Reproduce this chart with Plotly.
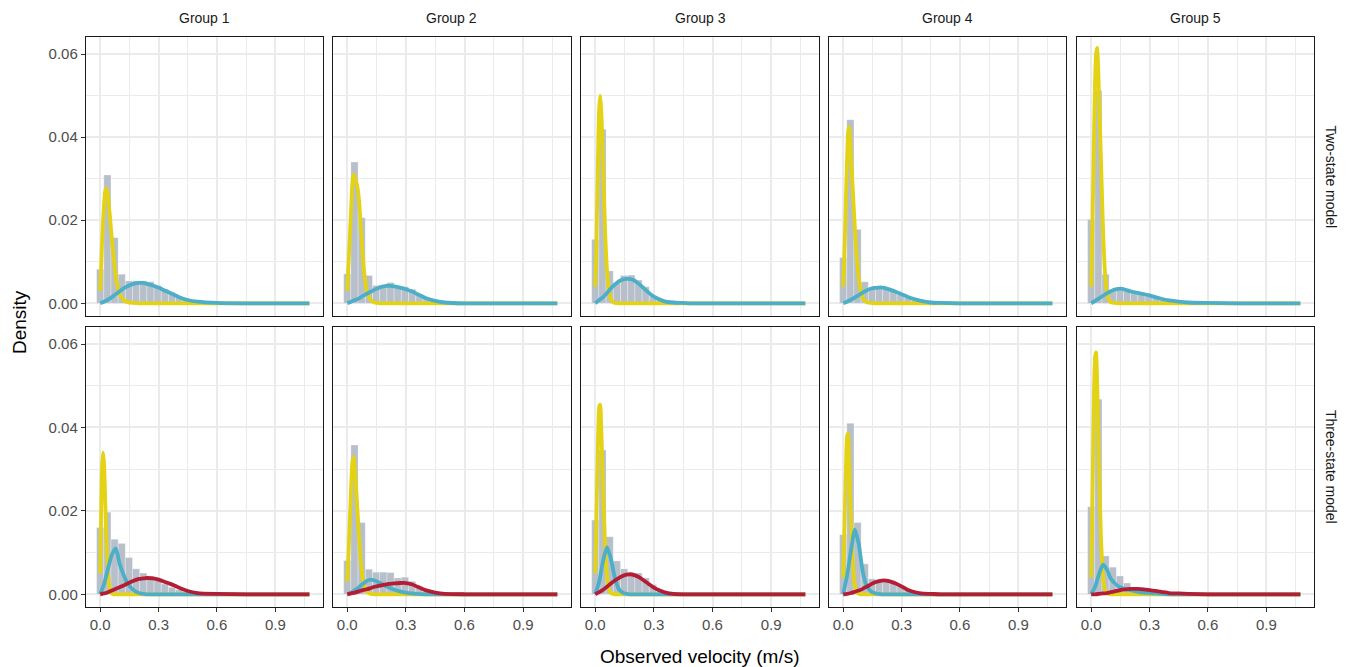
import plotly.graph_objects as go

# ---------------- data ----------------
GROUPS = ["Group 1", "Group 2", "Group 3", "Group 4", "Group 5"]
MODELS = ["Two-state model", "Three-state model"]

X_TICKS = [0.0, 0.3, 0.6, 0.9]
Y_TICKS = [0.00, 0.02, 0.04, 0.06]

BIN_WIDTH = 0.0369  # histogram bin width (30 bins over observed range)

# histogram heights (bins centred at 0, w, 2w, ...)
hist_two_g1 = [0.0082, 0.0309, 0.0158, 0.0070, 0.0054, 0.0054, 0.0054, 0.0052, 0.0042, 0.0035, 0.0026, 0.0014, 0.0008, 0.0005, 0.0003, 0.0002]
hist_two_g2 = [0.0071, 0.0340, 0.0206, 0.0067, 0.0043, 0.0042, 0.0050, 0.0042, 0.0040, 0.0034, 0.0022, 0.0014, 0.0008, 0.0005, 0.0003, 0.0002]
hist_two_g3 = [0.0154, 0.0419, 0.0078, 0.0050, 0.0067, 0.0068, 0.0056, 0.0040, 0.0018, 0.0008, 0.0004, 0.0002, 0.0001, 0.0001, 0.0001, 0.0001]
hist_two_g4 = [0.0110, 0.0442, 0.0178, 0.0052, 0.0034, 0.0038, 0.0034, 0.0032, 0.0022, 0.0014, 0.0008, 0.0006, 0.0003, 0.0002, 0.0001, 0.0001]
hist_two_g5 = [0.0202, 0.0512, 0.0070, 0.0030, 0.0035, 0.0035, 0.0026, 0.0022, 0.0018, 0.0014, 0.0010, 0.0007, 0.0006, 0.0004, 0.0003, 0.0002]
hist_three_g1 = [0.0160, 0.0197, 0.0132, 0.0122, 0.0088, 0.0061, 0.0051, 0.0044, 0.0033, 0.0025, 0.0017, 0.0011, 0.0007, 0.0005, 0.0003, 0.0002]
hist_three_g2 = [0.0081, 0.0358, 0.0172, 0.0060, 0.0053, 0.0053, 0.0052, 0.0039, 0.0041, 0.0031, 0.0018, 0.0009, 0.0006, 0.0003, 0.0002, 0.0001]
hist_three_g3 = [0.0178, 0.0346, 0.0138, 0.0080, 0.0061, 0.0049, 0.0051, 0.0039, 0.0023, 0.0011, 0.0006, 0.0003, 0.0002, 0.0001, 0.0001, 0.0001]
hist_three_g4 = [0.0143, 0.0410, 0.0172, 0.0073, 0.0037, 0.0035, 0.0033, 0.0029, 0.0021, 0.0013, 0.0008, 0.0005, 0.0003, 0.0002, 0.0001, 0.0001]
hist_three_g5 = [0.0210, 0.0468, 0.0092, 0.0065, 0.0044, 0.0027, 0.0017, 0.0013, 0.0011, 0.0009, 0.0006, 0.0005, 0.0003, 0.0002, 0.0001, 0.0001]

# x positions at which the fitted state densities were read
X_STATE1 = [0, .005, .01, .015, .02, .025, .03, .035, .04, .05, .06, .07, .08, .09, .10, .12, .14, .17, .20, .30, .50, .75, 1.075]
X_STATE23 = [0, .02, .04, .06, .08, .10, .12, .14, .16, .18, .20, .22, .24, .27, .30, .33, .36, .40, .45, .50, .60, .75, .90, 1.075]

# state 1 (yellow)
two_g1_s1 = [0.003, 0.009, 0.015, 0.020, 0.024, 0.0268, 0.0276, 0.0272, 0.0258, 0.021, 0.0154, 0.0106, 0.0066, 0.0038, 0.0022, 0.0008, 0.0003, 0.0001, 0, 0, 0, 0, 0]
two_g2_s1 = [0.003, 0.008, 0.013, 0.018, 0.023, 0.028, 0.0305, 0.031, 0.030, 0.0285, 0.025, 0.018, 0.011, 0.006, 0.003, 0.0008, 0.0002, 0, 0, 0, 0, 0, 0]
two_g3_s1 = [0.004, 0.012, 0.025, 0.038, 0.047, 0.050, 0.047, 0.041, 0.033, 0.018, 0.008, 0.003, 0.001, 0.0003, 0.0001, 0, 0, 0, 0, 0, 0, 0, 0]
two_g4_s1 = [0.004, 0.010, 0.018, 0.027, 0.035, 0.041, 0.0425, 0.040, 0.035, 0.027, 0.018, 0.011, 0.006, 0.003, 0.0013, 0.0003, 0.0001, 0, 0, 0, 0, 0, 0]
two_g5_s1 = [0.004, 0.015, 0.028, 0.042, 0.054, 0.060, 0.0615, 0.058, 0.050, 0.035, 0.019, 0.008, 0.003, 0.001, 0.0003, 0.0001, 0, 0, 0, 0, 0, 0, 0]
three_g1_s1 = [0.005, 0.020, 0.031, 0.034, 0.031, 0.024, 0.016, 0.010, 0.005, 0.001, 0.0002, 0, 0, 0, 0, 0, 0, 0, 0, 0, 0, 0, 0]
three_g2_s1 = [0.003, 0.008, 0.014, 0.020, 0.026, 0.031, 0.033, 0.032, 0.029, 0.022, 0.014, 0.0075, 0.0035, 0.0015, 0.0006, 0.0001, 0, 0, 0, 0, 0, 0, 0]
three_g3_s1 = [0.005, 0.016, 0.028, 0.039, 0.045, 0.0455, 0.041, 0.033, 0.025, 0.012, 0.0045, 0.0013, 0.0003, 0.0001, 0, 0, 0, 0, 0, 0, 0, 0, 0]
three_g4_s1 = [0.004, 0.013, 0.023, 0.032, 0.038, 0.0385, 0.033, 0.025, 0.018, 0.007, 0.002, 0.0005, 0.0001, 0, 0, 0, 0, 0, 0, 0, 0, 0, 0]
three_g5_s1 = [0.004, 0.018, 0.035, 0.050, 0.057, 0.058, 0.052, 0.042, 0.031, 0.014, 0.0045, 0.0012, 0.0003, 0.0001, 0, 0, 0, 0, 0, 0, 0, 0, 0]

# state 2 (blue)
two_g1_s2 = [0, 0.0004, 0.0009, 0.0015, 0.0022, 0.0029, 0.0036, 0.0041, 0.0045, 0.0048, 0.0049, 0.0049, 0.0047, 0.0043, 0.0038, 0.0031, 0.0025, 0.0016, 0.0008, 0.0004, 0.0001, 0, 0, 0]
two_g2_s2 = [0, 0.0004, 0.0008, 0.0012, 0.0018, 0.0023, 0.0028, 0.0033, 0.0037, 0.0040, 0.0042, 0.0042, 0.0041, 0.0038, 0.0034, 0.0029, 0.0022, 0.0013, 0.0006, 0.0002, 0, 0, 0, 0]
two_g3_s2 = [0, 0.0008, 0.0015, 0.0025, 0.0036, 0.0045, 0.0053, 0.0057, 0.0059, 0.0058, 0.0055, 0.0048, 0.0040, 0.0027, 0.0016, 0.0009, 0.0004, 0.0002, 0.0001, 0, 0, 0, 0, 0]
two_g4_s2 = [0, 0.0004, 0.0009, 0.0014, 0.0020, 0.0026, 0.0031, 0.0035, 0.0037, 0.0038, 0.0038, 0.0036, 0.0033, 0.0028, 0.0022, 0.0016, 0.0011, 0.0006, 0.0002, 0.0001, 0, 0, 0, 0]
two_g5_s2 = [0, 0.0006, 0.0012, 0.0018, 0.0024, 0.0029, 0.0033, 0.0035, 0.0035, 0.0032, 0.0029, 0.0027, 0.0025, 0.0022, 0.0019, 0.0015, 0.0011, 0.0007, 0.0004, 0.0002, 0.0001, 0, 0, 0]
three_g1_s2 = [0, 0.0025, 0.0062, 0.0095, 0.0110, 0.0073, 0.0047, 0.0027, 0.0015, 0.0007, 0.0003, 0.0001, 0, 0, 0, 0, 0, 0, 0, 0, 0, 0, 0, 0]
three_g2_s2 = [0, 0.0004, 0.0010, 0.0017, 0.0025, 0.0032, 0.0035, 0.0033, 0.0029, 0.0024, 0.0019, 0.0015, 0.0011, 0.0007, 0.0004, 0.0002, 0.0001, 0, 0, 0, 0, 0, 0, 0]
three_g3_s2 = [0, 0.0030, 0.0080, 0.0113, 0.0085, 0.0040, 0.0013, 0.0004, 0.0001, 0, 0, 0, 0, 0, 0, 0, 0, 0, 0, 0, 0, 0, 0, 0]
three_g4_s2 = [0, 0.0045, 0.0105, 0.0155, 0.0120, 0.0055, 0.0021, 0.0008, 0.0003, 0.0001, 0, 0, 0, 0, 0, 0, 0, 0, 0, 0, 0, 0, 0, 0]
three_g5_s2 = [0, 0.0018, 0.0048, 0.0071, 0.0060, 0.0038, 0.0027, 0.0019, 0.0015, 0.0012, 0.0010, 0.0008, 0.0006, 0.0004, 0.0003, 0.0002, 0.0001, 0, 0, 0, 0, 0, 0, 0]

# state 3 (red, three-state model only)
three_g1_s3 = [0, 0.0002, 0.0005, 0.0009, 0.0013, 0.0017, 0.0021, 0.0026, 0.0030, 0.0034, 0.0037, 0.0038, 0.0039, 0.0038, 0.0035, 0.0030, 0.0025, 0.0017, 0.0008, 0.0003, 0.0001, 0, 0, 0]
three_g2_s3 = [0, 0.0002, 0.0004, 0.0007, 0.0010, 0.0012, 0.0015, 0.0018, 0.0020, 0.0022, 0.0024, 0.0025, 0.0026, 0.0027, 0.0027, 0.0024, 0.0018, 0.0010, 0.0004, 0.0001, 0, 0, 0, 0]
three_g3_s3 = [0, 0.0005, 0.0011, 0.0018, 0.0026, 0.0033, 0.0039, 0.0044, 0.0047, 0.0048, 0.0046, 0.0042, 0.0036, 0.0026, 0.0016, 0.0009, 0.0004, 0.0001, 0, 0, 0, 0, 0, 0]
three_g4_s3 = [0, 0.0001, 0.0003, 0.0006, 0.0009, 0.0013, 0.0018, 0.0023, 0.0028, 0.0031, 0.0033, 0.0033, 0.0031, 0.0026, 0.0019, 0.0011, 0.0006, 0.0002, 0.0001, 0, 0, 0, 0, 0]
three_g5_s3 = [0, 0, 0.0001, 0.0002, 0.0003, 0.0005, 0.0007, 0.0009, 0.0011, 0.0012, 0.0013, 0.0013, 0.0013, 0.0012, 0.0010, 0.0008, 0.0006, 0.0003, 0.0002, 0.0001, 0, 0, 0, 0]

# ---------------- assembly ----------------
HISTS = [[hist_two_g1, hist_two_g2, hist_two_g3, hist_two_g4, hist_two_g5],
         [hist_three_g1, hist_three_g2, hist_three_g3, hist_three_g4, hist_three_g5]]
S1 = [[two_g1_s1, two_g2_s1, two_g3_s1, two_g4_s1, two_g5_s1],
      [three_g1_s1, three_g2_s1, three_g3_s1, three_g4_s1, three_g5_s1]]
S2 = [[two_g1_s2, two_g2_s2, two_g3_s2, two_g4_s2, two_g5_s2],
      [three_g1_s2, three_g2_s2, three_g3_s2, three_g4_s2, three_g5_s2]]
S3 = [[None] * 5,
      [three_g1_s3, three_g2_s3, three_g3_s3, three_g4_s3, three_g5_s3]]

W, H = 1346, 667
COL_PX = [(86, 323), (333, 571), (581, 819), (829, 1066), (1077, 1314)]
ROW_PX = [(37, 316), (327, 607)]

C_BAR = "#B7C0CA"
C_S1 = "#E4D214"
C_S2 = "#4DAFC7"
C_S3 = "#B41E35"
FONT = "Liberation Sans, Arial, sans-serif"
TICK_FONT = dict(family=FONT, size=15, color="#4D4D4D")

fig = go.Figure()
for r in range(2):
    for c in range(5):
        n = r * 5 + c + 1
        xa = "x" if n == 1 else f"x{n}"
        ya = "y" if n == 1 else f"y{n}"
        h = HISTS[r][c]
        centers = [i * BIN_WIDTH for i in range(len(h))]
        fig.add_trace(go.Bar(x=centers, y=h, width=[BIN_WIDTH] * len(h),
                             marker=dict(color=C_BAR, line=dict(color="rgba(255,255,255,0.45)", width=0.6)),
                             xaxis=xa, yaxis=ya, showlegend=False, hoverinfo="skip"))
        curves = [(X_STATE1, S1[r][c], C_S1), (X_STATE23, S2[r][c], C_S2)]
        if S3[r][c] is not None:
            curves.append((X_STATE23, S3[r][c], C_S3))
        for xs, ys, col in curves:
            fig.add_trace(go.Scatter(x=xs, y=ys, mode="lines",
                                     line=dict(color=col, width=3.8, shape="spline", smoothing=0.6),
                                     xaxis=xa, yaxis=ya, showlegend=False, hoverinfo="skip"))

        x0, x1 = COL_PX[c]
        y0, y1 = ROW_PX[r]
        xdom = [x0 / W, x1 / W]
        ydom = [1 - y1 / H, 1 - y0 / H]
        grid = dict(showgrid=True, gridcolor="#EBEBEB", gridwidth=2.4, zeroline=False,
                    showline=True, linecolor="#1A1A1A", linewidth=1.4, mirror=True)
        xaxis = dict(domain=xdom, anchor=ya, range=[-0.073, 1.145],
                     tickvals=X_TICKS, tickformat=".1f",
                     minor=dict(tickvals=[0.15, 0.45, 0.75, 1.05], showgrid=True, gridcolor="#EBEBEB", gridwidth=1.2),
                     showticklabels=(r == 1), ticks="outside" if r == 1 else "",
                     ticklen=4, tickwidth=1.2, tickcolor="#333333",
                     tickfont=TICK_FONT, **grid)
        yaxis = dict(domain=ydom, anchor=xa, range=[-0.00305, 0.0641],
                     tickvals=Y_TICKS, tickformat=".2f",
                     minor=dict(tickvals=[0.01, 0.03, 0.05], showgrid=True, gridcolor="#EBEBEB", gridwidth=1.2),
                     showticklabels=(c == 0), ticks="outside" if c == 0 else "",
                     ticklen=4, tickwidth=1.2, tickcolor="#333333",
                     tickfont=TICK_FONT, **grid)
        key = "" if n == 1 else str(n)
        fig.update_layout(**{f"xaxis{key}": xaxis, f"yaxis{key}": yaxis})

annotations = []
for c, g in enumerate(GROUPS):
    xc = (COL_PX[c][0] + COL_PX[c][1]) / 2 / W
    annotations.append(dict(text=g, x=xc, y=1 - 18 / H, xref="paper", yref="paper",
                            xanchor="center", yanchor="middle",
                            showarrow=False, font=dict(family=FONT, size=14, color="#1A1A1A")))
for r, m in enumerate(MODELS):
    yc = 1 - (ROW_PX[r][0] + ROW_PX[r][1]) / 2 / H
    annotations.append(dict(text=m, x=1331 / W, y=yc, xref="paper", yref="paper", textangle=90,
                            xanchor="center", yanchor="middle",
                            showarrow=False, font=dict(family=FONT, size=14, color="#1A1A1A")))
annotations.append(dict(text="Observed velocity (m/s)", x=700 / W, y=1 - 656 / H, xref="paper", yref="paper",
                        xanchor="center", yanchor="middle",
                        showarrow=False, font=dict(family=FONT, size=19, color="#000000")))
annotations.append(dict(text="Density", x=19 / W, y=1 - 322 / H, xref="paper", yref="paper", textangle=-90,
                        xanchor="center", yanchor="middle",
                        showarrow=False, font=dict(family=FONT, size=19, color="#000000")))

fig.update_layout(width=W, height=H, margin=dict(l=0, r=0, t=0, b=0),
                  paper_bgcolor="white", plot_bgcolor="white", barmode="overlay",
                  showlegend=False, annotations=annotations)

fig.write_html("out.html")
